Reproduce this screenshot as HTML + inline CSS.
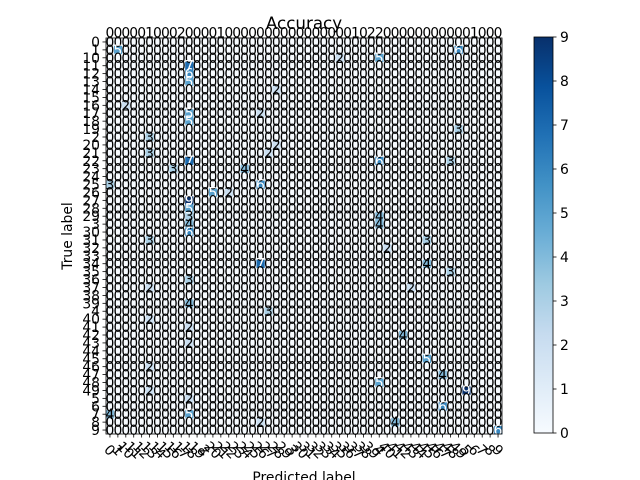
<!DOCTYPE html>
<html><head><meta charset="utf-8">
<style>
body{margin:0;background:#fff;}
svg{display:block;font-family:"DejaVu Sans","Liberation Sans",sans-serif;}
</style></head>
<body>
<svg id="chart" width="640" height="480" viewBox="0 0 640 480" xmlns="http://www.w3.org/2000/svg">
<rect width="640" height="480" fill="#fff"/>
<text x="304" y="29" font-size="16.7" text-anchor="middle" fill="#000">Accuracy</text>
<text x="0" y="0" font-size="13.9" text-anchor="middle" transform="translate(72,236) rotate(-90)">True label</text>
<text x="304" y="482" font-size="13.9" text-anchor="middle">Predicted label</text>
<g id="cells"></g><g id="texts"></g><g id="axes"></g><g id="cbar"></g>
</svg>
<script>
const categories = ["0","1","10","11","12","13","14","15","16","17","18","19","2","20","21","22","23","24","25","26","27","28","29","3","30","31","32","33","34","35","36","37","38","39","4","40","41","42","43","44","45","46","47","48","49","5","6","7","8","9"];
// sparse non-zero entries: row index, column index, value
const rowIdx = [1,3,4,5,9,10,11,15,15,16,16,18,18,19,20,21,22,23,23,24,25,28,30,33,34,47,47,25,28,29,37,40,42,43,44,46,48,49,2,1,11,15,22,12,14,14,9,6,26,31,31,35,36,38,41,44,45,48,2,8,19,13];
const colIdx = [1,10,10,10,10,10,44,10,34,8,17,0,19,13,10,10,10,10,34,10,5,19,10,10,20,0,10,40,40,43,37,40,42,34,45,42,36,49,34,44,44,43,34,5,5,20,19,21,35,5,38,5,10,10,5,5,10,19,29,2,15,21];
const values = [5,7,6,5,5,5,6,7,6,3,4,3,6,5,9,5,3,4,4,6,3,7,3,4,3,4,5,3,4,3,4,5,4,5,9,6,4,6,5,6,3,3,4,3,3,2,2,2,2,2,2,2,2,2,2,2,2,2,2,2,2,2];
const extraTopRow = "00000100020000100000000000000001022000000000001000";
const cbarTicks = [0,1,2,3,4,5,6,7,8,9];
const vmax = 9;

const NS="http://www.w3.org/2000/svg";
const X0=106, Y0=38, W=396, H=396, N=categories.length, cs=W/N;
const FS=13.9;
const xPos = j => X0 + cs*(j+0.5);
const yPos = i => Y0 + cs*(i+0.5);
const stops=["#f7fbff","#deebf7","#c6dbef","#9ecae1","#6baed6","#4292c6","#2171b5","#08519c","#08306b"];
function hex(h){return [1,3,5].map(k=>parseInt(h.substr(k,2),16));}
function blues(t){t=Math.max(0,Math.min(1,t));const p=t*8,i=Math.min(7,Math.floor(p)),f=p-i;const a=hex(stops[i]),b=hex(stops[i+1]);return "rgb("+a.map((v,k)=>Math.round(v+(b[k]-v)*f)).join(",")+")";}
function mk(tag,at,parent){const e=document.createElementNS(NS,tag);for(const k in at)e.setAttribute(k,at[k]);parent.appendChild(e);return e;}

const M=[];for(let i=0;i<N;i++){M.push(new Array(N).fill(0));}
for(let k=0;k<values.length;k++){M[rowIdx[k]][colIdx[k]]=values[k];}

const cells=document.getElementById('cells'), texts=document.getElementById('texts'), axes=document.getElementById('axes'), cbar=document.getElementById('cbar');
mk('rect',{x:X0,y:Y0,width:W,height:H,fill:stops[0]},cells);
for(let i=0;i<N;i++)for(let j=0;j<N;j++){
  const v=M[i][j];
  if(v>0){const r=mk('rect',{x:X0+cs*j,y:Y0+cs*i,width:cs+0.3,height:cs+0.3,fill:blues(v/vmax)},cells);
  
  }
}
for(let i=0;i<N;i++)for(let j=0;j<N;j++){
  const v=M[i][j];
  const t=mk('text',{x:xPos(j),y:yPos(i)+5,'font-size':FS,'text-anchor':'middle',fill:v>vmax/2?'#fff':'#000'},texts);
  t.textContent=v;
  
  
}
for(let j=0;j<N;j++){
  const t=mk('text',{x:xPos(j),y:Y0-0.5,'font-size':FS,'text-anchor':'middle',fill:'#000'},texts);
  t.textContent=extraTopRow[j]||"0";
  
  
}
mk('rect',{x:X0,y:Y0,width:W,height:H,fill:'none',stroke:'#000','stroke-width':0.8},axes);
for(let i=0;i<N;i++){
  mk('line',{x1:X0,x2:X0-3.5,y1:yPos(i),y2:yPos(i),stroke:'#000','stroke-width':0.8},axes);
  const t=mk('text',{x:X0-6,y:yPos(i)+5,'font-size':FS,'text-anchor':'end'},axes);
  t.textContent=categories[i];
  
  
  mk('line',{x1:xPos(i),x2:xPos(i),y1:Y0+H,y2:Y0+H+3.5,stroke:'#000','stroke-width':0.8},axes);
  const u=mk('text',{x:0,y:5,'font-size':FS,'text-anchor':'middle',transform:'translate('+xPos(i)+',450) rotate(45)'},axes);
  u.textContent=categories[i];
  
  
}
// colorbar
const CX=534,CW=19,CY=37,CH=396;
const defs=mk('defs',{},cbar);
const g=mk('linearGradient',{id:'cbg',x1:0,y1:1,x2:0,y2:0},defs);
stops.forEach((s,k)=>mk('stop',{offset:k/8,'stop-color':s},g));
const cb=mk('rect',{x:CX,y:CY,width:CW,height:CH,fill:'url(#cbg)',stroke:'#000','stroke-width':0.8},cbar);


cbarTicks.forEach(v=>{
  const y=CY+CH-CH*v/vmax;
  mk('line',{x1:CX+CW,x2:CX+CW+3.5,y1:y,y2:y,stroke:'#000','stroke-width':0.8},cbar);
  const t=mk('text',{x:CX+CW+7,y:y+5,'font-size':FS},cbar);
  t.textContent=v;
  
  
});
</script>
</body></html>
